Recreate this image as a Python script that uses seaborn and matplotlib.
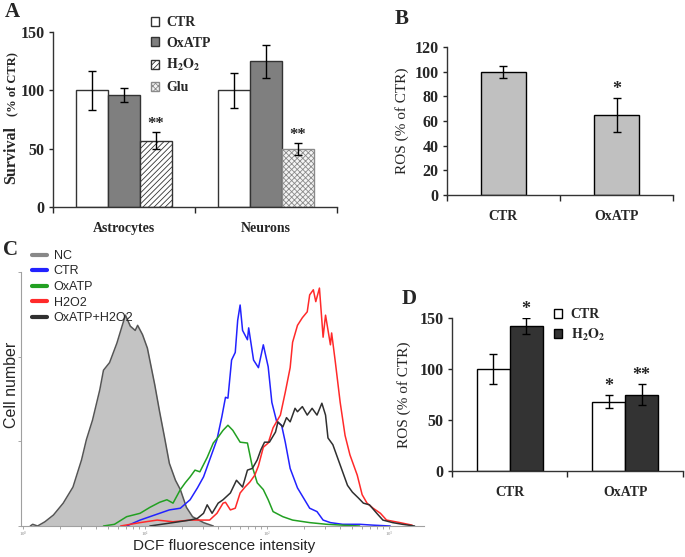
import matplotlib
matplotlib.use('Agg')
import matplotlib.pyplot as plt
from matplotlib.patches import Patch
from matplotlib.lines import Line2D
import seaborn as sns
import numpy as np
import pandas as pd


# panel A - cell survival (% of CTR)
groups_a = ['Astrocytes', 'Neurons']
conds_a = [['CTR', 'OxATP', 'H2O2'], ['CTR', 'OxATP', 'Glu']]
surv_a = [[100, 96, 57], [100, 125, 50]]
surv_err_a = [[17, 6, 7], [15, 14, 5]]
stars_a = [['', '', '**'], ['', '', '**']]

# panel B - ROS (% of CTR)
cond_b = ['CTR', 'OxATP']
ros_b = [100, 65]
ros_err_b = [5, 14]
stars_b = ['', '*']

# panel D - ROS (% of CTR), CTR vs H2O2
groups_d = ['CTR', 'OxATP']
hue_d = ['CTR', 'H2O2']
ros_d = [[100, 142], [68, 75]]
ros_err_d = [[14.5, 8], [6.5, 10]]
stars_d = [['', '*'], ['*', '**']]

# panel C - DCF histograms, x = log10(intensity), y = cell number
nc_x = [0.06, 0.08, 0.12, 0.18, 0.25, 0.33, 0.41, 0.48, 0.52, 0.57, 0.63, 0.66, 0.71, 0.77,
        0.81, 0.84, 0.88, 0.92, 0.94, 0.98, 1.02, 1.08, 1.12, 1.16, 1.20, 1.25, 1.29, 1.34,
        1.39, 1.48, 1.56]
nc_y = [0, 2, 0, 5, 13, 27, 46, 78, 102, 125, 161, 184, 193, 216,
        235, 249, 236, 231, 237, 226, 210, 167, 135, 105, 74, 54, 43, 22,
        11, 4, 0]

ctr_x = [0.85, 0.96, 1.04, 1.12, 1.20, 1.29, 1.37, 1.43, 1.48, 1.53, 1.59, 1.63, 1.66, 1.68,
         1.71, 1.74, 1.76, 1.78, 1.80, 1.84, 1.85, 1.89, 1.93, 1.97, 2.01, 2.04, 2.08, 2.12,
         2.15, 2.19, 2.25, 2.30, 2.35, 2.41, 2.46, 2.52, 2.62, 2.76, 2.87, 3.01]
ctr_y = [0, 7, 11, 15, 19, 21, 31, 45, 58, 78, 102, 129, 152, 151,
         196, 205, 243, 261, 231, 220, 234, 196, 187, 214, 188, 146, 123, 119,
         99, 68, 45, 33, 21, 17, 7, 4, 2, 2, 1, 0]

oxatp_x = [0.66, 0.75, 0.85, 0.96, 1.04, 1.12, 1.18, 1.23, 1.29, 1.33, 1.37, 1.41, 1.45, 1.51,
           1.56, 1.60, 1.64, 1.68, 1.72, 1.78, 1.84, 1.88, 1.92, 1.97, 2.01, 2.05, 2.13, 2.21,
           2.35, 2.49, 2.62, 2.76]
oxatp_y = [0, 2, 11, 15, 22, 28, 31, 27, 43, 51, 58, 66, 64, 81,
           98, 105, 113, 119, 113, 99, 98, 70, 51, 43, 31, 17, 11, 7,
           4, 2, 1, 0]

h2o2_x = [0.80, 0.96, 1.10, 1.23, 1.37, 1.53, 1.59, 1.64, 1.66, 1.70, 1.74, 1.78, 1.82, 1.86,
          1.90, 1.93, 1.97, 2.01, 2.05, 2.11, 2.15, 2.19, 2.21, 2.25, 2.29, 2.33, 2.35, 2.38,
          2.40, 2.43, 2.46, 2.48, 2.52, 2.53, 2.56, 2.60, 2.64, 2.68, 2.74, 2.78, 2.82, 2.87,
          2.93, 2.98, 3.09, 3.19]
h2o2_y = [0, 4, 7, 5, 7, 7, 15, 27, 28, 19, 21, 39, 46, 52,
          60, 71, 93, 98, 116, 131, 158, 187, 217, 237, 246, 253, 273, 279,
          265, 281, 223, 249, 214, 228, 194, 146, 107, 84, 60, 37, 27, 21,
          15, 7, 4, 1]

combo_x = [1.04, 1.23, 1.37, 1.43, 1.48, 1.51, 1.55, 1.60, 1.64, 1.70, 1.75, 1.80, 1.84, 1.88,
           1.92, 1.95, 1.98, 2.02, 2.07, 2.09, 2.13, 2.16, 2.19, 2.23, 2.25, 2.29, 2.33, 2.37,
           2.41, 2.45, 2.48, 2.50, 2.54, 2.58, 2.62, 2.66, 2.70, 2.75, 2.79, 2.84, 2.90, 2.95,
           3.03, 3.11, 3.21]
combo_y = [0, 4, 7, 9, 15, 25, 15, 27, 31, 39, 54, 46, 66, 68,
           78, 90, 99, 99, 111, 123, 117, 128, 123, 139, 135, 141, 131, 139,
           131, 145, 131, 104, 96, 80, 64, 48, 40, 33, 27, 25, 15, 7,
           4, 2, 0]

hist_c = [
    ('CTR', ctr_x, ctr_y, '#2222ff'),
    ('OxATP', oxatp_x, oxatp_y, '#22a022'),
    ('H2O2', h2o2_x, h2o2_y, '#ff2a2a'),
    ('OxATP+H2O2', combo_x, combo_y, '#303030'),
]

sns.set_style('ticks')
plt.rcParams['font.family'] = ['Liberation Serif', 'DejaVu Serif']
plt.rcParams['font.weight'] = 'bold'
plt.rcParams['mathtext.fontset'] = 'stix'
plt.rcParams['hatch.linewidth'] = 0.6
plt.rcParams['axes.edgecolor'] = '#333333'

W, H = 685, 557
fig = plt.figure(figsize=(6.85, 5.57), dpi=100)


def box(left, right, top, bottom):
    return [left / W, 1 - bottom / H, (right - left) / W, (bottom - top) / H]


def style_cat_axis(ax, ncat):
    ax.set_xlim(-0.5, ncat - 0.5)
    ax.set_xticks(np.arange(-0.5, ncat), minor=True)
    ax.tick_params(axis='x', which='major', length=0, pad=11, labelsize=10)
    ax.tick_params(axis='x', which='minor', length=4, width=1, direction='out')
    ax.tick_params(axis='y', length=3, width=1, pad=3, labelsize=11.5)
    ax.set_xlabel('')
    ax.set_ylabel('')
    for s in ['left', 'bottom']:
        ax.spines[s].set_linewidth(1)
    sns.despine(ax=ax)


def add_err(ax, bars, vals, errs, stars, fs=12):
    for bar, v, e, st in zip(bars, vals, errs, stars):
        cx = bar.get_x() + bar.get_width() / 2
        ax.errorbar(cx, v, yerr=e, fmt='none', ecolor='black', elinewidth=1,
                    capsize=3, capthick=1)
        if st:
            ax.text(cx, v + e, st, ha='center', va='bottom', fontsize=fs)


# ---------- A ----------
ax_a = fig.add_axes(box(53, 337, 32, 207))
df_a = pd.DataFrame({'group': np.repeat(groups_a, 3), 'slot': [0, 1, 2] * 2,
                     'value': np.ravel(surv_a)})
sns.barplot(data=df_a, x='group', y='value', hue='slot', width=0.67,
            palette={0: 'white', 1: 'white', 2: 'white'}, edgecolor='#333333',
            linewidth=1, errorbar=None, legend=False, ax=ax_a)
face_a = {'CTR': 'white', 'OxATP': '#7f7f7f', 'H2O2': 'white', 'Glu': '#f4f4f4'}
hatch_a = {'CTR': None, 'OxATP': None, 'H2O2': '//////', 'Glu': 'xxxxxx'}
edge_a = {'CTR': '#333333', 'OxATP': '#333333', 'H2O2': '#333333', 'Glu': '#8a8a8a'}
bars_a = list(ax_a.containers)
for s, cont in enumerate(bars_a):
    for g, bar in enumerate(cont):
        c = conds_a[g][s]
        bar.set_facecolor(face_a[c])
        bar.set_hatch(hatch_a[c])
        bar.set_edgecolor(edge_a[c])
    add_err(ax_a, cont, [surv_a[g][s] for g in range(2)],
            [surv_err_a[g][s] for g in range(2)], [stars_a[g][s] for g in range(2)])
ax_a.set_ylim(0, 150)
ax_a.set_yticks([0, 50, 100, 150])
style_cat_axis(ax_a, 2)
leg_a = [Patch(facecolor=face_a[c], edgecolor=edge_a[c], hatch=hatch_a[c]) for c in
         ['CTR', 'OxATP', 'H2O2', 'Glu']]
ax_a.legend(leg_a, ['CTR', 'OxATP', r'$\mathbf{H_2O_2}$', 'Glu'], loc='upper left',
            bbox_to_anchor=(151 / W, 1 - 16 / H), bbox_transform=fig.transFigure,
            frameon=False, fontsize=10, handlelength=0.6, handleheight=0.6,
            handletextpad=0.5, labelspacing=0.55, borderpad=0, borderaxespad=0)
fig.text(11 / W, 1 - 155 / H, 'Survival', rotation=90, ha='center', va='center', fontsize=11.5)
fig.text(12 / W, 1 - 84 / H, '(% of CTR)', rotation=90, ha='center', va='center', fontsize=9)

# ---------- B ----------
ax_b = fig.add_axes(box(447, 673, 47, 195))
sns.barplot(x=cond_b, y=ros_b, color='#c0c0c0', saturation=1, width=0.39,
            edgecolor='black', linewidth=1, errorbar=None, ax=ax_b)
add_err(ax_b, list(ax_b.containers)[0], ros_b, ros_err_b, stars_b, fs=13)
ax_b.set_ylim(0, 120)
ax_b.set_yticks(np.arange(0, 121, 20))
style_cat_axis(ax_b, 2)
ax_b.set_ylabel('ROS (% of CTR)', fontsize=11, labelpad=4)

# ---------- C ----------
ax_c = fig.add_axes(box(21, 424, 272, 526))
ax_c.fill_between(10 ** np.array(nc_x), nc_y, color='#c3c3c3', lw=0)
sns.lineplot(x=10 ** np.array(nc_x), y=nc_y, color='#555555', lw=1.1, estimator=None, ax=ax_c)
for name, xs, ys, col in hist_c:
    sns.lineplot(x=10 ** np.array(xs), y=ys, color=col, lw=1.1, estimator=None, ax=ax_c)
ax_c.set_xscale('log')
ax_c.set_xlim(10 ** -0.016, 10 ** 3.287)
ax_c.set_ylim(0, 300)
ax_c.set_yticks([0, 100, 200, 300])
ax_c.set_yticklabels([])
ax_c.tick_params(axis='both', which='both', color='#999999', labelcolor='#888888',
                 labelsize=3.5, length=2, width=0.6, pad=0.5)
for s in ['left', 'bottom']:
    ax_c.spines[s].set_color('#a0a0a0')
    ax_c.spines[s].set_linewidth(0.8)
sns.despine(ax=ax_c)
for lab in ax_c.get_xticklabels():
    lab.set_fontweight('normal')
leg_c = [Line2D([], [], color='#888888', lw=3)] + [Line2D([], [], color=h[3], lw=3) for h in hist_c]
ax_c.legend(leg_c, ['NC'] + [h[0] for h in hist_c], loc='upper left',
            bbox_to_anchor=(32 / W, 1 - 250 / H), bbox_transform=fig.transFigure,
            frameon=False, prop={'family': 'Liberation Sans', 'size': 9, 'weight': 'normal'},
            handlelength=1.2, handletextpad=0.55, labelspacing=0.28, borderpad=0, borderaxespad=0)
fig.text(224 / W, 1 - 546 / H, 'DCF fluorescence intensity', ha='center', va='center',
         fontsize=11, family='Liberation Sans', weight='normal')
fig.text(12 / W, 1 - 385 / H, 'Cell number', rotation=90, ha='center', va='center',
         fontsize=11.5, family='Liberation Sans', weight='normal')

# ---------- D ----------
ax_d = fig.add_axes(box(452, 683, 318, 471))
df_d = pd.DataFrame({'group': np.repeat(groups_d, 2), 'treat': hue_d * 2,
                     'value': np.ravel(ros_d)})
sns.barplot(data=df_d, x='group', y='value', hue='treat', width=0.57,
            palette={'CTR': 'white', 'H2O2': '#333333'}, saturation=1,
            edgecolor='black', linewidth=1, errorbar=None, legend=False, ax=ax_d)
for t, cont in enumerate(list(ax_d.containers)):
    add_err(ax_d, cont, [ros_d[g][t] for g in range(2)],
            [ros_err_d[g][t] for g in range(2)], [stars_d[g][t] for g in range(2)], fs=13)
ax_d.set_ylim(0, 150)
ax_d.set_yticks([0, 50, 100, 150])
style_cat_axis(ax_d, 2)
ax_d.set_ylabel('ROS (% of CTR)', fontsize=11, labelpad=6)
leg_d = [Patch(facecolor='white', edgecolor='black'), Patch(facecolor='#333333', edgecolor='black')]
ax_d.legend(leg_d, ['CTR', r'$\mathbf{H_2O_2}$'], loc='upper left',
            bbox_to_anchor=(554 / W, 1 - 308 / H), bbox_transform=fig.transFigure,
            frameon=False, fontsize=10, handlelength=0.6, handleheight=0.6,
            handletextpad=0.6, labelspacing=0.4, borderpad=0, borderaxespad=0)

# panel letters
for letter, px, py in [('A', 12, 12), ('B', 402, 19), ('C', 10, 250), ('D', 409, 299)]:
    fig.text(px / W, 1 - py / H, letter, ha='center', va='center', fontsize=15)

fig.savefig('out.png', dpi=100)
